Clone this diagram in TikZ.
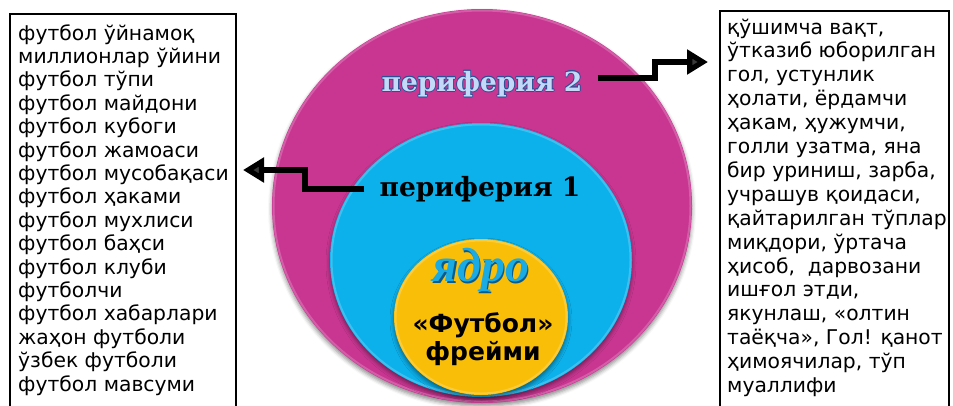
\documentclass[tikz,border=0pt]{standalone}
\usepackage{fontspec}
\usetikzlibrary{arrows.meta,shadows.blur}
\newfontfamily\listfont{DejaVu Sans}
\newfontfamily\serifbold{DejaVu Serif}[UprightFont=* Bold]
\newfontfamily\coreserif{Liberation Serif}[UprightFont=* Bold Italic]
\definecolor{ringouter}{RGB}{201,54,146}
\definecolor{ringmid}{RGB}{12,176,234}
\definecolor{ringcore}{RGB}{249,190,8}
\definecolor{labellight}{RGB}{196,216,248}
\definecolor{labeledge}{RGB}{40,80,150}
\definecolor{coreword}{RGB}{26,170,228}
\definecolor{corewordedge}{RGB}{10,90,140}
\tikzset{
  listbox/.style={draw=black, line width=1.8pt},
  listtext/.style={font=\listfont\fontsize{20.3}{23}\selectfont, anchor=base west, inner sep=0pt},
  ring/.style={blur shadow={shadow xshift=0pt, shadow yshift=-3pt, shadow blur radius=4pt, shadow opacity=45}},
  ringrim/.style={line width=2pt, draw opacity=0.45},
  steparrow/.style={line width=6pt, line join=miter, -{Triangle[length=21pt,width=24pt]}},
  ringlabel/.style={font=\serifbold\fontsize{26.5}{30}\selectfont, inner sep=0pt},
  coretext/.style={font=\coreserif\fontsize{48}{52}\selectfont, inner sep=0pt},
}
\begin{document}
\begin{tikzpicture}[x=1pt,y=-1pt]
\useasboundingbox (0,0) rectangle (953,405);

% nested rings with a soft drop shadow and a light rim
\fill[ringouter, ring] (482,206) ellipse [x radius=210, y radius=197];
\draw[ringrim, ringouter!55!white] (482,206) ellipse [x radius=208.5, y radius=195.5];
\fill[ringmid, ring] (481,260) ellipse [x radius=151, y radius=137];
\draw[ringrim, ringmid!55!white] (481,260) ellipse [x radius=149.5, y radius=135.5];
\fill[ringcore, ring] (481,317) ellipse [x radius=87, y radius=78];
\draw[ringrim, ringcore!55!white] (481,317) ellipse [x radius=85.5, y radius=76.5];

% ring labels
\foreach \dx/\dy in {-0.7/0,0.7/0,0/-0.7,0/0.7,-0.5/-0.5,0.5/0.5,-0.5/0.5,0.5/-0.5}
  \node[ringlabel, text=labeledge] at (482+\dx,84+\dy) {периферия 2};
\node[ringlabel, text=labellight] (p2) at (482,84) {периферия 2};
\node[ringlabel, text=black] (p1) at (480,189) {периферия 1};

\node[coretext, text=corewordedge] at (482.5,271.5) {ядро};
\node[coretext, text=coreword] (core) at (481,270) {ядро};
\node[font=\listfont\bfseries\fontsize{25}{28}\selectfont, align=center, inner sep=0pt] (frame) at (483,339) {«Футбол»\\фрейми};

% list boxes, open at the lower edge
\draw[listbox] (10,406) -- (10,14) -- (236,14) -- (236,406);
\draw[listbox] (720,406) -- (720,11) -- (949,11) -- (949,406);
\coordinate (leftbox) at (243,170);
\coordinate (rightbox) at (708,62);

\foreach \t [count=\i from 0] in {
  {футбол ўйнамоқ},{миллионлар ўйини},{футбол тўпи},{футбол майдони},
  {футбол кубоги},{футбол жамоаси},{футбол мусобақаси},{футбол ҳаками},
  {футбол мухлиси},{футбол баҳси},{футбол клуби},{футболчи},
  {футбол хабарлари},{жаҳон футболи},{ўзбек футболи},{футбол мавсуми}}
  \node[listtext] (left\i) at (18,40+23.4*\i) {\t};

\foreach \t [count=\i from 0] in {
  {қўшимча вақт,},{ўтказиб юборилган},{гол, устунлик},{ҳолати, ёрдамчи},
  {ҳакам, ҳужумчи,},{голли узатма, яна},{бир уриниш, зарба,},{учрашув қоидаси,},
  {қайтарилган тўплар},{миқдори, ўртача},{ҳисоб,\ \ дарвозани},{ишғол этди,},
  {якунлаш, «олтин},{таёқча», Гол! қанот},{ҳимоячилар, тўп},{муаллифи}}
  \node[listtext] (right\i) at (727,34+23.9*\i) {\t};

% step arrows from ring labels to lists
\draw[steparrow] ([xshift=-15pt]p1.west |- 0,189) -- (305,189) -- (305,170) -- (leftbox);
\draw[steparrow] ([xshift=15pt]p2.east |- 0,78) -- (655,78) -- (655,62) -- (rightbox);
\end{tikzpicture}
\end{document}
